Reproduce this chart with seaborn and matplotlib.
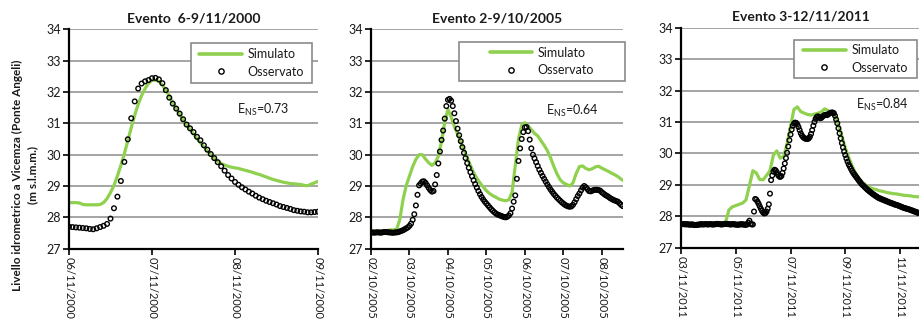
import numpy as np
import pandas as pd
import matplotlib
matplotlib.use("Agg")
import matplotlib.pyplot as plt
import seaborn as sns
from matplotlib.lines import Line2D
from matplotlib.patches import Rectangle

# ---------------- data ----------------
TITLES = ["Evento  6-9/11/2000", "Evento 2-9/10/2005", "Evento 3-12/11/2011"]
STARTS = ["2000-11-06", "2005-10-02", "2011-11-03"]
ENS = ["0.73", "0.64", "0.84"]
TICKS1 = ["06/11/2000", "07/11/2000", "08/11/2000", "09/11/2000"]
TICKS2 = ["02/10/2005", "03/10/2005", "04/10/2005", "05/10/2005",
          "06/10/2005", "07/10/2005", "08/10/2005"]
TICKS3 = ["03/11/2011", "05/11/2011", "07/11/2011", "09/11/2011", "11/11/2011"]
YTICKS = [27, 28, 29, 30, 31, 32, 33, 34]
LABELS = ["Simulato", "Osservato"]
YLABEL = "Livello idrometrico a Vicemza (Ponte Angeli)\n(m s.l.m.m.)"

# observed: hourly values
OBS1 = [27.70, 27.69, 27.68, 27.67, 27.66, 27.65, 27.63, 27.62, 27.65, 27.69,
        27.73, 27.79, 27.96, 28.29, 28.66, 29.16, 29.77, 30.49, 31.16, 31.70,
        32.11, 32.27, 32.34, 32.38, 32.44, 32.45, 32.40, 32.28, 32.06, 31.82,
        31.63, 31.47, 31.31, 31.13, 30.96, 30.84, 30.72, 30.57, 30.46, 30.30,
        30.16, 30.02, 29.89, 29.76, 29.63, 29.49, 29.35, 29.24, 29.13, 29.04,
        28.96, 28.89, 28.82, 28.76, 28.69, 28.63, 28.58, 28.53, 28.49, 28.45,
        28.41, 28.36, 28.33, 28.30, 28.27, 28.23, 28.21, 28.19, 28.18, 28.16,
        28.16, 28.17, 28.18]
# simulated: hourly
SIM1 = [28.47, 28.47, 28.47, 28.46, 28.41, 28.40, 28.40, 28.40, 28.40, 28.41,
        28.47, 28.60, 28.79, 29.02, 29.32, 29.66, 30.03, 30.44, 30.86, 31.26,
        31.61, 31.89, 32.11, 32.28, 32.37, 32.38, 32.34, 32.22, 32.06, 31.87,
        31.66, 31.47, 31.29, 31.11, 30.96, 30.81, 30.66, 30.52, 30.38, 30.25,
        30.12, 30.00, 29.88, 29.78, 29.72, 29.67, 29.63, 29.60, 29.58, 29.56,
        29.53, 29.50, 29.47, 29.44, 29.40, 29.37, 29.33, 29.29, 29.25, 29.21,
        29.18, 29.15, 29.12, 29.10, 29.08, 29.07, 29.06, 29.05, 29.02, 29.01,
        29.06, 29.10, 29.15]

OBS2 = [27.52, 27.52, 27.51, 27.52, 27.52, 27.52, 27.51, 27.52, 27.53, 27.53,
        27.53, 27.52, 27.52, 27.51, 27.51, 27.52, 27.52, 27.53, 27.55, 27.57,
        27.59, 27.62, 27.65, 27.68, 27.73, 27.80, 27.92, 28.10, 28.38, 28.72,
        29.02, 29.08, 29.14, 29.15, 29.10, 29.02, 28.94, 28.87, 28.82, 28.84,
        29.05, 29.35, 29.72, 30.10, 30.47, 30.77, 31.15, 31.55, 31.75, 31.78,
        31.72, 31.55, 31.32, 31.07, 30.83, 30.62, 30.43, 30.24, 30.06, 29.89,
        29.73, 29.58, 29.44, 29.31, 29.18, 29.06, 28.95, 28.84, 28.74, 28.65,
        28.57, 28.50, 28.44, 28.38, 28.32, 28.26, 28.21, 28.16, 28.12, 28.09,
        28.07, 28.05, 28.03, 28.01, 28.00, 28.02, 28.06, 28.13, 28.28, 28.50,
        28.70, 29.23, 29.80, 30.20, 30.50, 30.72, 30.87, 30.88, 30.75, 30.48,
        30.20, 30.00, 29.88, 29.76, 29.64, 29.52, 29.42, 29.32, 29.23, 29.14,
        29.05, 28.97, 28.89, 28.82, 28.75, 28.69, 28.63, 28.58, 28.53, 28.48,
        28.44, 28.40, 28.37, 28.35, 28.34, 28.35, 28.40, 28.48, 28.58, 28.68,
        28.76, 28.86, 28.95, 29.00, 28.96, 28.90, 28.84, 28.83, 28.85, 28.87,
        28.88, 28.88, 28.87, 28.85, 28.80, 28.76, 28.72, 28.69, 28.66, 28.62,
        28.59, 28.56, 28.54, 28.52, 28.50, 28.45, 28.40, 28.36]
# simulated: every 2 hours
SIM2 = [27.55, 27.55, 27.56, 27.56, 27.57, 27.58, 27.60, 27.60, 27.62, 27.94,
        28.57, 29.02, 29.32, 29.62, 29.85, 30.00, 30.00, 29.86, 29.74, 29.66,
        29.74, 29.95, 30.42, 31.04, 31.45, 31.20, 30.90, 30.66, 30.40, 30.17,
        29.90, 29.66, 29.43, 29.25, 29.10, 28.97, 28.85, 28.76, 28.69, 28.64,
        28.58, 28.55, 28.53, 28.56, 28.80, 29.65, 30.50, 30.94, 31.02, 30.92,
        30.80, 30.68, 30.60, 30.45, 30.30, 30.13, 29.90, 29.63, 29.39, 29.20,
        29.10, 29.05, 29.00, 29.10, 29.40, 29.62, 29.64, 29.56, 29.52, 29.55,
        29.61, 29.63, 29.57, 29.52, 29.47, 29.41, 29.36, 29.30, 29.22, 29.15]

OBS3 = [27.76, 27.75, 27.75, 27.75, 27.74, 27.75, 27.74, 27.74, 27.73, 27.74,
        27.74, 27.73, 27.72, 27.72, 27.73, 27.73, 27.74, 27.74, 27.75, 27.74,
        27.74, 27.75, 27.75, 27.74, 27.74, 27.75, 27.75, 27.74, 27.74, 27.74,
        27.75, 27.75, 27.76, 27.75, 27.75, 27.74, 27.74, 27.75, 27.75, 27.76,
        27.76, 27.75, 27.75, 27.74, 27.74, 27.75, 27.75, 27.74, 27.74, 27.73,
        27.73, 27.74, 27.74, 27.75, 27.74, 27.74, 27.73, 27.73, 27.74,
        27.80, 27.86, 27.76, 27.74,
        27.74,
        28.15, 28.55, 28.53, 28.47, 28.40, 28.32, 28.24, 28.17, 28.12, 28.09,
        28.10, 28.15, 28.24, 28.38, 28.72, 29.15, 29.30, 29.42, 29.48, 29.46,
        29.40, 29.32, 29.27, 29.25, 29.28, 29.38, 29.52, 29.68, 29.85, 30.02,
        30.22, 30.42, 30.60, 30.76, 30.88, 30.95, 30.98, 30.97, 30.92, 30.84,
        30.74, 30.64, 30.57, 30.52, 30.49, 30.47, 30.46, 30.46, 30.48, 30.53,
        30.62, 30.74, 30.88, 31.00, 31.10, 31.16, 31.18, 31.15, 31.12, 31.13,
        31.17, 31.20, 31.22, 31.23, 31.22, 31.24, 31.27, 31.29, 31.30, 31.30,
        31.28, 31.20, 31.08, 30.96, 30.80, 30.64, 30.48, 30.33, 30.19, 30.06,
        29.95, 29.84, 29.74, 29.65, 29.58, 29.51, 29.44, 29.38, 29.33, 29.28,
        29.23, 29.18, 29.13, 29.09, 29.04, 29.00, 28.97, 28.93, 28.90, 28.86,
        28.83, 28.80, 28.77, 28.74, 28.71, 28.69, 28.66, 28.64, 28.61, 28.59,
        28.57, 28.56, 28.54, 28.53, 28.51, 28.50, 28.48, 28.47, 28.45, 28.44,
        28.42, 28.41, 28.40, 28.38, 28.37, 28.36, 28.35, 28.33, 28.32, 28.30,
        28.29, 28.27, 28.26, 28.25, 28.24, 28.23, 28.22, 28.20, 28.19, 28.18,
        28.16, 28.15, 28.14, 28.12, 28.11, 28.10, 28.09]
# simulated: every 3 hours
SIM3 = [27.75, 27.74, 27.74, 27.75, 27.74, 27.73, 27.74, 27.74, 27.75, 27.74,
        27.74, 27.75, 27.75, 27.80, 28.20, 28.30, 28.34, 28.38, 28.42, 28.52,
        28.98, 29.45, 29.38, 29.17, 29.16, 29.30, 29.45, 29.95, 30.08, 29.85,
        29.90, 30.30, 30.85, 31.40, 31.48, 31.33, 31.28, 31.24, 31.22, 31.25,
        31.28, 31.32, 31.42, 31.36, 31.30, 31.18, 30.92, 30.55, 30.18, 29.88,
        29.60, 29.38, 29.21, 29.08, 28.99, 28.92, 28.88, 28.85, 28.81, 28.79,
        28.76, 28.74, 28.72, 28.71, 28.69, 28.67, 28.66, 28.65, 28.63, 28.62,
        28.62]

OBS_STEP_H = [1, 1, 1]
SIM_STEP_H = [1, 2, 3]

# ---------------- style ----------------
sns.set_style("white")
plt.rcParams["font.family"] = ["Lato", "DejaVu Sans"]
plt.rcParams["mathtext.fontset"] = "custom"
plt.rcParams["mathtext.rm"] = "Lato"

GREEN = "#8FD14F"
GRID = "#8c8c8c"
TXT = "#1a1a1a"
W, H = 920, 322

fig = plt.figure(figsize=(W / 100, H / 100), dpi=100)


def fx(x):
    return x / W


def fy(y):
    return 1 - y / H


# axes rectangles in pixels (left, top, right, bottom) and visible span in days
RECTS = [(69, 29.3, 318, 248.7), (371, 29.3, 623, 248.7), (681, 27.7, 920, 247.7)]
SPAN_DAYS = [3.0, 6.55, 8.73]
TICKS = [TICKS1, TICKS2, TICKS3]
OBS = [OBS1, OBS2, OBS3]
SIM = [SIM1, SIM2, SIM3]
# legend boxes in pixels (left, top, right, bottom)
LEG = [(191, 43, 312, 83), (459, 41.7, 625, 81), (794, 40, 917, 78)]
ENS_POS = [(237, 110), (546, 111), (856, 105)]

for i in range(3):
    l, t, r, b = RECTS[i]
    ax = fig.add_axes([fx(l), fy(b), (r - l) / W, (b - t) / H])
    start = pd.Timestamp(STARTS[i])
    tobs = start + pd.to_timedelta(np.arange(len(OBS[i])) * OBS_STEP_H[i], unit="h")
    tsim = start + pd.to_timedelta(np.arange(len(SIM[i])) * SIM_STEP_H[i], unit="h")
    df_s = pd.DataFrame({"t": tsim, "v": SIM[i]})
    df_o = pd.DataFrame({"t": tobs, "v": OBS[i]})

    sns.lineplot(data=df_s, x="t", y="v", ax=ax, color=GREEN, linewidth=2.3,
                 zorder=2)
    sns.scatterplot(data=df_o, x="t", y="v", ax=ax, marker="o", s=11,
                    facecolor="none", edgecolor="black", linewidth=1.0,
                    zorder=3)

    ax.set_xlim(start, start + pd.Timedelta(days=SPAN_DAYS[i]))
    ax.set_ylim(27, 34)
    ax.set_yticks(YTICKS)
    ax.set_yticklabels([str(v) for v in YTICKS])
    tick_pos = pd.to_datetime(TICKS[i], format="%d/%m/%Y")
    ax.set_xticks(tick_pos)
    ax.set_xticklabels(TICKS[i], rotation=270, ha="center", va="top")
    ax.set_xlabel("")
    ax.set_ylabel("")

    ax.yaxis.grid(True, color=GRID, linewidth=1.1)
    ax.xaxis.grid(False)
    ax.set_axisbelow(True)
    for s in ["top", "right"]:
        ax.spines[s].set_visible(False)
    for s in ["left", "bottom"]:
        ax.spines[s].set_color("black")
        ax.spines[s].set_linewidth(1.6)
    ax.tick_params(axis="both", which="major", bottom=True, left=True,
                   direction="out", length=4, width=1.2, color="black",
                   labelsize=9, labelcolor=TXT, pad=2)
    ax.tick_params(axis="x", labelsize=8, pad=2)

    ax.set_title(TITLES[i], fontsize=10, fontweight="bold", color=TXT, pad=5)

    # legend box + legend
    ll, lt, lr, lb = LEG[i]
    fig.patches.append(Rectangle((fx(ll), fy(lb)), (lr - ll) / W, (lb - lt) / H,
                                 transform=fig.transFigure, facecolor="white",
                                 edgecolor="#8a8a8a", linewidth=1.2, zorder=4))
    handles = [Line2D([], [], color=GREEN, linewidth=2.6),
               Line2D([], [], marker="o", linestyle="", markerfacecolor="none",
                      markeredgecolor="black", markersize=3.8, markeredgewidth=1.0)]
    fig.legend(handles, LABELS, loc="center",
               bbox_to_anchor=(fx((ll + lr) / 2), fy((lt + lb) / 2)),
               frameon=False, fontsize=9, handlelength=3.4, handletextpad=0.45,
               labelspacing=0.45, borderpad=0.0, labelcolor=TXT)

    ex, ey = ENS_POS[i]
    fig.text(fx(ex), fy(ey), r"E$_{\mathregular{NS}}$=" + ENS[i], fontsize=9,
             color=TXT, ha="left", va="center")

fig.text(fx(25), fy(175), YLABEL, rotation=90, fontsize=8.5, fontweight="bold",
         ha="center", va="center", multialignment="center", color=TXT,
         linespacing=1.45)

fig.savefig("out.png", dpi=100)
